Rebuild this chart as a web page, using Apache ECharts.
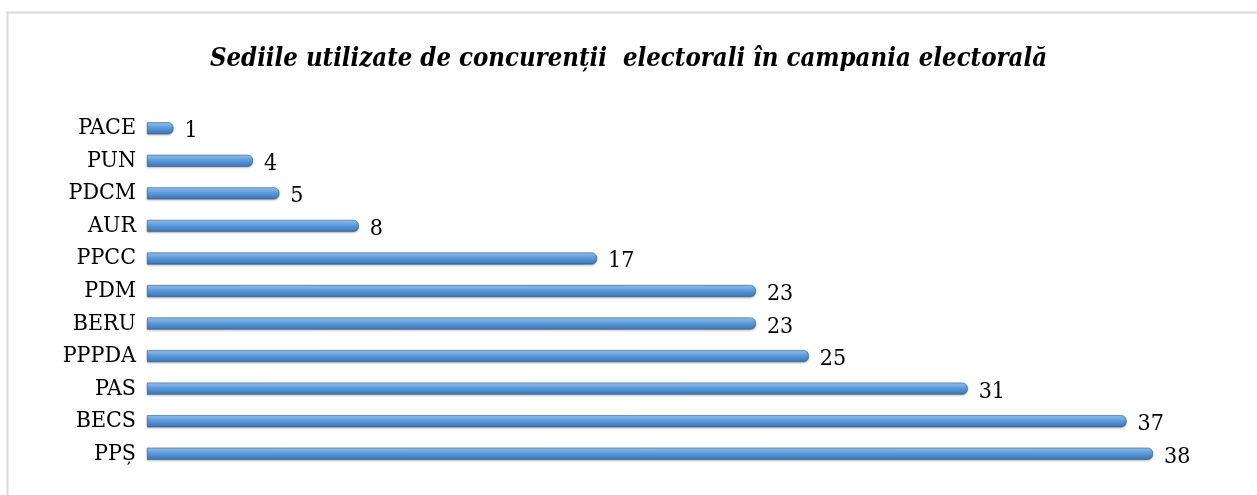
<!DOCTYPE html>
<html>
<head>
<meta charset="utf-8">
<script src="https://cdn.jsdelivr.net/npm/echarts@6/dist/echarts.min.js"></script>
<style>
  html, body { margin: 0; padding: 0; background: #fff; }
  #chart { width: 1257px; height: 495px; }
</style>
</head>
<body>
<div id="chart"></div>
<script>
// partide (de jos in sus, ca pe axa)
var categories = ['PPȘ', 'BECS', 'PAS', 'PPPDA', 'BERU', 'PDM', 'PPCC', 'AUR', 'PDCM', 'PUN', 'PACE'];
// numar de sedii
var sedii = [38, 37, 31, 25, 23, 23, 17, 8, 5, 4, 1];

var titlu = 'Sediile utilizate de concurenții  electorali în campania electorală';

var myChart = echarts.init(document.getElementById('chart'));

var option = {
  backgroundColor: '#fff',
  title: {
    text: titlu,
    left: 'center',
    top: 41,
    textStyle: {
      fontFamily: 'DejaVu Serif Condensed',
      fontStyle: 'italic',
      fontWeight: 'bold',
      fontSize: 25.5,
      color: '#000'
    }
  },
  graphic: [
    {
      type: 'rect',
      shape: { x: 7.5, y: 12.5, width: 1300, height: 600 },
      style: { fill: 'none', stroke: '#d9d9d9', lineWidth: 2 },
      silent: true
    }
  ],
  grid: {
    left: 147,
    right: 104,
    top: 112,
    bottom: 25
  },
  xAxis: {
    type: 'value',
    min: 0,
    max: 38,
    show: false
  },
  yAxis: {
    type: 'category',
    data: categories,
    axisLine: { show: false },
    axisTick: { show: false },
    axisLabel: {
      margin: 11,
      fontFamily: 'DejaVu Serif Condensed',
      fontSize: 23,
      color: '#000'
    }
  },
  series: [
    {
      type: 'bar',
      data: sedii,
      barWidth: 12,
      itemStyle: {
        color: new echarts.graphic.LinearGradient(0, 0, 0, 1, [
          { offset: 0, color: '#a3cbf3' },
          { offset: 0.4, color: '#5f9fe0' },
          { offset: 1, color: '#3b72b0' }
        ]),
        borderRadius: [0, 5, 5, 0],
        borderColor: '#2f5f94',
        borderWidth: 0.6,
        shadowColor: 'rgba(0,0,0,0.25)',
        shadowBlur: 2,
        shadowOffsetY: 1
      },
      label: {
        show: true,
        position: 'right',
        distance: 11,
        fontFamily: 'DejaVu Serif Condensed',
        fontSize: 23,
        color: '#000',
        offset: [0, 3]
      }
    }
  ]
};

myChart.setOption(option);
window.addEventListener('resize', function () {
  myChart.resize();
});
</script>
</body>
</html>
